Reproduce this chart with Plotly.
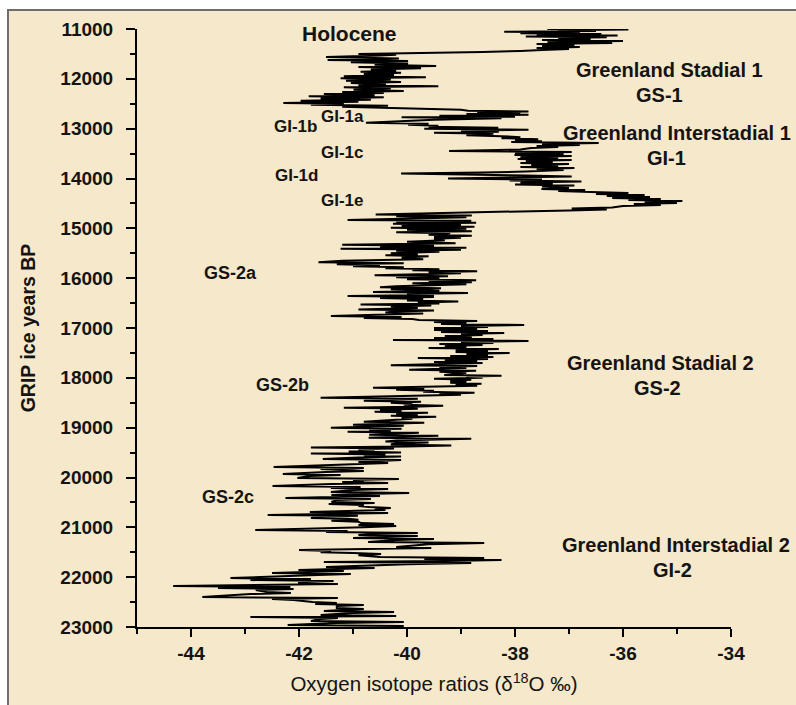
import plotly.graph_objects as go

# ---------------- data ----------------
age = [
 11000,11010,11025,11040,11055,11070,11085,11100,11115,11130,11150,11165,11180,11200,11220,11240,11260,11280,11300,11320,
 11340,11360,11380,11400,11420,11440,11460,11480,11500,
 11515,11530,11560,11590,11620,11640,11665,11690,11715,11740,11765,11790,11815,11840,11860,11880,11905,11925,11950,11970,
 11990,12015,12040,12065,12085,12110,12130,12150,12170,12195,12220,12245,12265,12285,12305,12330,12350,12370,12395,12420,
 12440,12460,12485,12500,12520,12540,12560,12580,12600,12620,12640,12655,12670,12690,12705,12720,12740,12760,12770,12790,
 12820,12850,12880,12900,12920,12940,12960,12980,13000,13020,13040,13060,13080,13100,13130,13150,13170,13190,13210,13230,
 13250,13270,13290,13310,13330,13350,13370,13390,13420,13450,13470,13490,13510,13530,13550,13570,13590,13610,13630,13650,
 13670,13690,13710,13730,13750,13770,13790,13810,13830,13860,13880,13900,13920,13940,13960,13980,14000,14020,14040,14060,
 14080,14100,14120,14140,14160,14190,14210,14230,14250,14270,14290,14310,14330,14350,14370,14390,14410,14430,14450,14470,
 14490,14510,14530,14550,14580,14600,14620,14640,14660,14680,14700,14720,14740,14760,14780,14810,14833,14850,14870,14890,
 14910,14930,14950,14970,14990,15010,15030,15060,15080,15100,15130,15150,15170,15190,15210,15240,15270,15300,15330,15350,
 15370,15390,15410,15430,15450,15470,15500,15520,15540,15560,15590,15620,15650,15680,15700,15720,15740,15760,15780,15800,
 15820,15840,15860,15880,15900,15920,15940,15960,15980,16000,16020,16040,16060,16080,16100,16120,16140,16160,16180,16200,
 16220,16250,16280,16300,16320,16340,16360,16380,16400,16420,16450,16470,16490,16510,16530,16550,16570,16600,16630,16650,
 16670,16690,16710,16730,16760,16780,16800,16820,16840,16860,16880,16900,16920,16940,16960,16980,17000,17020,17040,17060,
 17080,17100,17120,17140,17160,17180,17200,17220,17240,17260,17280,17300,17320,17340,17360,17380,17400,17420,17440,17460,
 17480,17500,17520,17540,17560,17580,17600,17620,17640,17660,17680,17700,17720,17745,17765,17785,17805,17840,17860,17880,
 17900,17925,17944,17960,17980,18000,18020,18040,18060,18080,18100,18120,18140,18160,18200,18220,18240,18260,18280,18300,
 18320,18340,18360,18400,18420,18440,18460,18480,18500,18520,18540,18560,18580,18600,18620,18640,18660,18680,18700,18720,
 18740,18760,18780,18800,18820,18840,18880,18900,18920,18940,18960,18980,19000,19020,19040,19060,19080,19100,19120,19140,
 19160,19180,19200,19220,19240,19260,19280,19300,19320,19340,19360,19380,19400,19420,19440,19460,19480,19500,19520,19540,
 19560,19580,19600,19630,19650,19670,19690,19710,19740,19790,19810,19830,19850,19870,19890,19930,19950,19970,20010,20030,
 20050,20070,20090,20110,20130,20172,20190,20210,20230,20250,20290,20310,20330,20350,20370,20390,20410,20430,20450,20490,
 20510,20530,20550,20570,20590,20610,20630,20650,20690,20710,20730,20754,20770,20790,20814,20830,20850,20870,20890,20915,
 20935,20955,20975,21000,21055,21075,21095,21115,21135,21155,21175,21195,21216,21236,21256,21296,21316,21340,21396,21416,
 21436,21457,21477,21500,21517,21537,21560,21597,21617,21637,21657,21677,21697,21717,21740,21797,21817,21840,21858,21878,
 21900,21918,21938,21960,22018,22038,22058,22078,22100,22118,22138,22160,22179,22199,22219,22239,22260,22299,22319,22340,
 22399,22419,22440,22460,22500,22520,22540,22560,22580,22620,22640,22660,22680,22700,22720,22761,22781,22800,22821,22841,
 22881,22901,22920,22961,22981,23000,
]
d18o = [
 -37.4,-35.9,-37.2,-36.5,-38.2,-36.8,-37.9,-36.4,-37.6,-36.1,-37.8,-36.3,-37.2,-36.6,-37.5,-36.0,-37.4,-36.2,-37.6,-36.9,
 -37.5,-36.8,-37.6,-37.0,-37.5,-37.9,-38.6,-39.6,-40.9,
 -40.2,-40.5,-41.5,-40.15,-41.47,-39.98,-41.04,-39.98,-40.6,-39.46,-40.9,-39.74,-40.67,-40.2,-40.86,-40.11,-40.8,-40.24,-41.17,-39.65,
 -41.23,-40.3,-41.13,-40.11,-41.04,-40.39,-40.9,-39.42,-41.17,-40.3,-40.99,-40.06,-41.2,-40.43,-41.54,-40.6,-41.82,-40.43,-41.6,-40.67,
 -41.97,-40.9,-42.29,-41.17,-41.78,-40.35,-41.2,-40.35,-39.6,-39.0,-38.87,-37.75,-38.7,-37.9,-38.9,-37.75,-39.4,-38.0,-40.1,-38.25,
 -39.5,-40.2,-40.76,-39.6,-39.98,-39.42,-39.6,-38.31,-39.68,-37.75,-39.0,-38.3,-39.5,-38.4,-38.9,-38.25,-37.9,-38.25,-37.57,-38.0,
 -37.5,-38.07,-36.45,-37.5,-36.8,-37.6,-37.2,-37.7,-37.9,-39.22,-36.95,-38.0,-37.1,-38.01,-36.95,-37.9,-37.2,-37.95,-36.95,-37.8,
 -37.3,-37.9,-37.0,-37.7,-37.2,-37.9,-36.9,-37.6,-37.1,-37.8,-38.6,-40.11,-38.3,-37.8,-36.95,-37.9,-39.24,-37.5,-38.1,-36.77,
 -37.9,-37.3,-38.0,-36.9,-37.5,-37.0,-37.51,-36.7,-37.2,-36.6,-35.9,-36.5,-35.6,-36.3,-35.5,-36.2,-35.3,-35.9,-34.9,-35.6,
 -35.0,-35.8,-35.3,-36.0,-36.2,-36.95,-36.3,-37.0,-38.0,-38.75,-39.6,-40.58,-38.8,-40.2,-38.9,-40.4,-41.1,-38.81,-40.2,-38.72,
 -40.26,-39.0,-40.1,-38.75,-40.3,-38.9,-40.0,-38.8,-40.2,-39.2,-39.6,-38.8,-39.5,-39.0,-39.5,-39.3,-40.0,-39.1,-41.2,-39.5,
 -40.5,-38.9,-41.23,-39.0,-40.2,-39.4,-40.3,-39.8,-40.4,-39.6,-40.1,-39.7,-41.2,-41.64,-40.06,-41.3,-40.5,-41.0,-40.06,-40.4,
 -39.4,-39.9,-38.7,-39.6,-39.0,-39.8,-40.6,-39.24,-40.2,-39.4,-40.0,-38.72,-39.6,-38.8,-39.9,-38.9,-39.8,-40.2,-40.5,-39.37,
 -40.3,-39.4,-40.63,-38.87,-40.0,-39.5,-41.1,-39.5,-40.5,-39.7,-40.0,-39.05,-39.8,-39.4,-40.86,-39.55,-40.3,-39.8,-40.9,-39.5,
 -40.2,-40.4,-39.7,-40.5,-41.41,-40.1,-40.8,-39.9,-39.78,-38.7,-39.5,-38.9,-39.37,-37.83,-39.0,-38.5,-39.5,-38.7,-39.5,-38.5,
 -39.37,-38.2,-39.0,-38.6,-39.3,-38.8,-39.5,-38.4,-40.26,-37.75,-39.0,-38.4,-39.4,-38.6,-39.3,-38.9,-39.6,-38.3,-39.1,-38.5,
 -39.1,-38.1,-38.9,-38.5,-39.2,-38.4,-39.8,-38.5,-39.3,-38.7,-39.5,-38.6,-39.2,-40.3,-38.7,-39.4,-38.9,-39.96,-38.72,-39.4,
 -38.9,-39.2,-39.31,-38.25,-38.9,-38.6,-39.5,-38.81,-39.2,-38.9,-39.2,-38.62,-39.1,-38.7,-40.63,-39.68,-40.2,-39.5,-39.7,-38.75,
 -39.4,-39.0,-39.8,-41.6,-39.8,-40.5,-40.8,-39.74,-40.3,-39.9,-40.06,-39.33,-39.9,-41.17,-39.8,-40.5,-40.1,-40.6,-39.61,-40.2,
 -39.8,-40.3,-39.46,-40.1,-39.9,-40.2,-40.8,-39.68,-40.3,-41.0,-40.06,-40.6,-41.41,-40.1,-40.7,-40.3,-41.1,-39.78,-40.5,-40.7,
 -39.42,-40.1,-40.71,-38.81,-39.8,-40.2,-40.4,-39.6,-40.2,-40.3,-39.18,-40.0,-41.78,-40.24,-40.9,-40.6,-41.08,-40.11,-41.78,-40.4,
 -40.8,-40.11,-40.9,-41.56,-40.11,-40.7,-40.9,-40.35,-41.2,-42.47,-40.8,-41.6,-41.2,-40.8,-41.5,-42.3,-41.23,-41.8,-42.03,-40.15,
 -41.0,-40.8,-41.2,-40.35,-41.4,-42.49,-40.86,-41.41,-40.35,-41.0,-41.41,-39.96,-40.8,-41.4,-40.5,-41.3,-42.25,-40.67,-41.3,-41.4,
 -40.6,-41.45,-40.8,-40.9,-40.7,-40.3,-40.6,-40.4,-41.8,-40.35,-41.5,-42.58,-40.91,-41.6,-41.78,-41.1,-40.9,-41.4,-40.9,-40.85,
 -40.24,-40.9,-40.2,-40.8,-42.81,-41.1,-41.5,-39.8,-40.6,-40.9,-39.8,-40.3,-41.0,-39.5,-40.2,-40.72,-38.57,-39.6,-40.2,-39.55,
 -41.0,-42.0,-41.41,-41.6,-41.0,-40.48,-40.9,-40.5,-38.57,-39.68,-38.25,-39.3,-41.54,-38.81,-40.0,-41.5,-40.6,-41.3,-42.01,-41.17,
 -41.8,-42.5,-41.04,-41.8,-43.27,-41.78,-42.9,-41.36,-42.0,-42.0,-41.28,-42.6,-44.33,-42.16,-43.5,-42.1,-42.8,-42.6,-42.15,-42.9,
 -43.79,-41.28,-42.5,-42.1,-41.75,-41.3,-41.7,-40.8,-41.3,-41.3,-40.8,-41.2,-41.54,-40.24,-41.0,-41.6,-40.2,-42.9,-41.28,-41.6,
 -41.78,-40.06,-41.3,-42.21,-40.06,-41.0,
]

x_tick_vals = [-44, -42, -40, -38, -36, -34]
x_tick_text = ["-44", "-42", "-40", "-38", "-36", "-34"]
y_tick_vals = [11000, 12000, 13000, 14000, 15000, 16000, 17000, 18000, 19000, 20000, 21000, 22000, 23000]

# text labels
label_text = ["Holocene", "Greenland Stadial 1", "GS-1", "Greenland Interstadial 1", "GI-1",
              "GI-1b", "GI-1a", "GI-1c", "GI-1d", "GI-1e",
              "GS-2a", "GS-2b", "GS-2c", "Greenland Stadial 2", "GS-2",
              "Greenland Interstadial 2", "GI-2"]
label_x = [-41.06, -35.13, -35.33, -35.0, -35.2,
           -42.06, -41.19, -41.19, -42.04, -41.19,
           -43.27, -42.30, -43.31, -35.30, -35.37,
           -35.02, -35.09]
label_y = [11090, 11813, 12315, 13077, 13579,
           12947, 12746, 13469, 13930, 14432,
           15897, 18145, 20393, 17703, 18205,
           21356, 21858]
label_size = [21, 20, 20, 20, 20,
              17, 17, 17, 17, 17,
              18, 18, 18, 20, 20,
              20, 20]

FONT = "Liberation Sans, Arial, sans-serif"
INK = "#141414"
BG = "#F6E8CA"

fig = go.Figure()
fig.add_trace(go.Scatter(x=d18o, y=age, mode="lines",
                         line=dict(color="black", width=2),
                         hoverinfo="skip", showlegend=False))

for t, x, y, s in zip(label_text, label_x, label_y, label_size):
    fig.add_annotation(x=x, y=y, xref="x", yref="y", text=t, showarrow=False,
                       font=dict(family=FONT, size=s, color=INK, weight="bold"),
                       xanchor="center", yanchor="middle")

# page background with thin frame at top/left
L, R, T, B = 137, 65, 29, 78
W, H = 796, 705
pw, ph = W - L - R, H - T - B
def px2x(p): return (p - L) / pw
def py2y(p): return 1 - (p - T) / ph
fig.add_shape(type="rect", xref="paper", yref="paper",
              x0=px2x(8), x1=px2x(820), y0=py2y(730), y1=py2y(10),
              fillcolor=BG, line=dict(color="#6e6e6e", width=2), layer="below")

fig.update_layout(
    width=W, height=H,
    margin=dict(l=L, r=R, t=T, b=B, pad=0),
    paper_bgcolor="white", plot_bgcolor="rgba(0,0,0,0)",
    font=dict(family=FONT, color=INK),
    showlegend=False,
)
fig.update_xaxes(
    range=[-45, -34], showgrid=False, zeroline=False,
    showline=True, linecolor="black", linewidth=2,
    tickmode="array", tickvals=x_tick_vals, ticktext=x_tick_text,
    ticks="outside", ticklen=8, tickwidth=2, tickcolor="black",
    minor=dict(dtick=1, tick0=-45, ticks="outside", ticklen=5, tickwidth=2, tickcolor="black"),
    tickfont=dict(family=FONT, size=19, color=INK, weight="bold"),
    title=dict(text="Oxygen isotope ratios (δ<sup>18</sup>O ‰)",
               font=dict(family=FONT, size=20.5, color=INK), standoff=14),
)
fig.update_yaxes(
    range=[23000, 11000], showgrid=False, zeroline=False,
    showline=True, linecolor="black", linewidth=2,
    tickmode="array", tickvals=y_tick_vals, tickformat="d",
    ticks="outside", ticklen=9, tickwidth=2, tickcolor="black",
    minor=dict(dtick=500, ticks="outside", ticklen=5, tickwidth=2, tickcolor="black"),
    tickfont=dict(family=FONT, size=19, color=INK, weight="bold"), ticklabelstandoff=9,
    title=dict(text="GRIP ice years BP",
               font=dict(family=FONT, size=19.5, color=INK, weight="bold"), standoff=20),
)

fig.write_html("out.html")
